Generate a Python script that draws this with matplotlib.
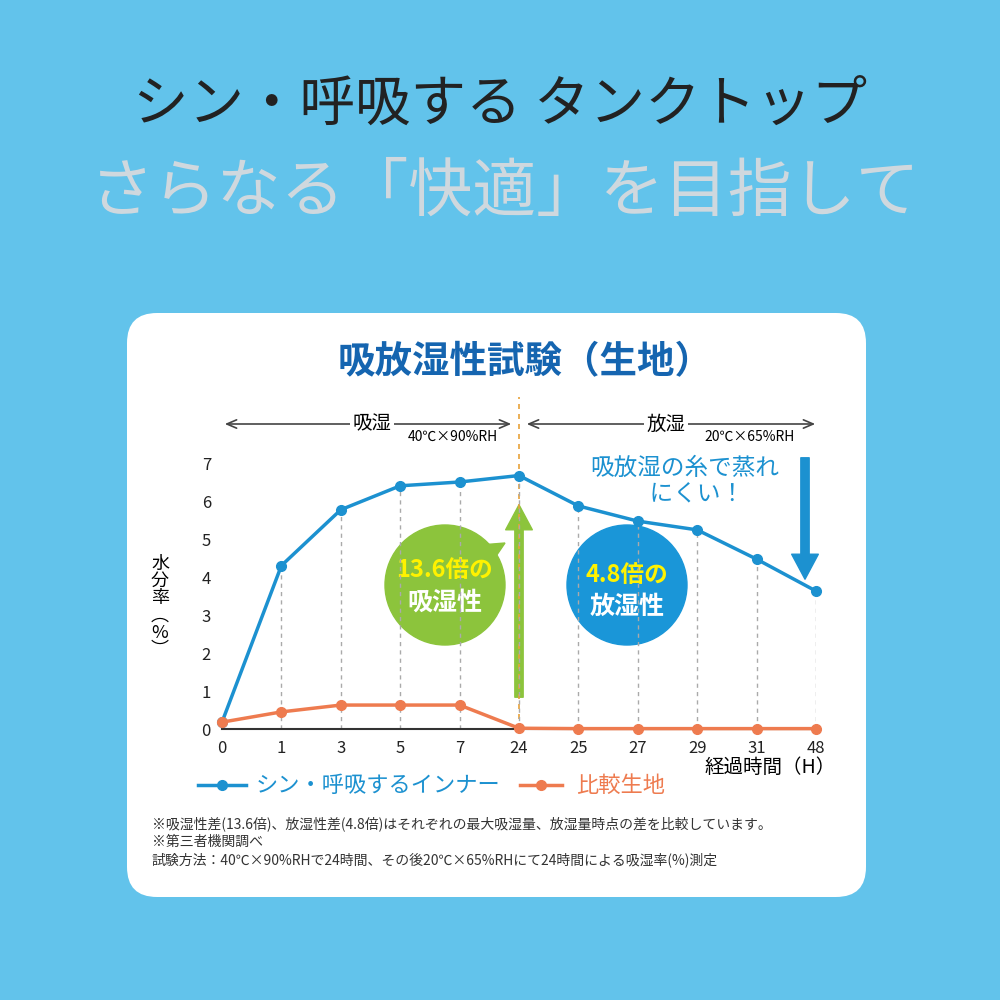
import matplotlib
matplotlib.use("Agg")
import matplotlib.pyplot as plt
from matplotlib.patches import FancyBboxPatch, Circle, FancyArrowPatch, Polygon

plt.rcParams['font.family'] = ['Noto Sans CJK JP', 'DejaVu Sans']

hours = ["0", "1", "3", "5", "7", "24", "25", "27", "29", "31", "48"]
inner = [0.18, 4.3, 5.77, 6.4, 6.5, 6.67, 5.87, 5.47, 5.24, 4.47, 3.63]
compare = [0.18, 0.45, 0.63, 0.63, 0.63, 0.02, 0.01, 0.01, 0.01, 0.01, 0.01]
yticks = [0, 1, 2, 3, 4, 5, 6, 7]

BG = "#62c3eb"; BLUE = "#1c91d0"; ORANGE = "#ee7b4f"; GREEN = "#8cc43c"
fig = plt.figure(figsize=(10, 10), dpi=100)
fig.patch.set_facecolor(BG)

def P(x, y):
    return (x / 1000, 1 - y / 1000)

T = fig.transFigure
fig.patches.append(FancyBboxPatch(P(127, 897), 0.739, 0.584, boxstyle="round,pad=0,rounding_size=0.03",
                                  transform=T, facecolor="white", edgecolor="none", zorder=0))

fig.text(*P(500, 105), "シン・呼吸する タンクトップ", ha="center", va="center", fontsize=40, color="#222222")
fig.text(*P(505, 192), "さらなる「快適」を目指して", ha="center", va="center", fontsize=46, color="#cfd8de")
fig.text(*P(525, 362), "吸放湿性試験（生地）", ha="center", va="center", fontsize=27, color="#1565b0", weight="bold")

ax = fig.add_axes([0.222, 0.271, 0.594, 0.266])
ax.set_zorder(5)
ax.set_facecolor("none")
x = list(range(len(hours)))
for i in x[1:]:
    ax.plot([i, i], [0, inner[i]], ls=(0, (3, 3)), color="#aaaaaa", lw=1, zorder=1)
ax.plot(x, inner, color=BLUE, lw=2.5, marker="o", ms=7, clip_on=False, zorder=3)
ax.plot(x, compare, color=ORANGE, lw=2.5, marker="o", ms=7, clip_on=False, zorder=3)
ax.set_xlim(0, 10); ax.set_ylim(0, 7)
ax.set_xticks(x); ax.set_xticklabels(hours, fontsize=12)
ax.set_yticks(yticks); ax.set_yticklabels([str(v) for v in yticks], fontsize=12)
ax.tick_params(length=0, pad=8, colors="#222222")
for s in ["left", "right", "top"]:
    ax.spines[s].set_visible(False)
ax.spines["bottom"].set_color("#333333"); ax.spines["bottom"].set_linewidth(1.5)
ax.axvline(5, ymin=0, ymax=1.25, color="#e8a23a", ls=(0, (3, 3)), lw=1.2, clip_on=False, zorder=0)

fig.text(*P(160, 607), "水\n分\n率\n︵\n%\n︶", ha="center", va="center", fontsize=13, linespacing=0.95)
fig.text(*P(770, 767), "経過時間（H）", ha="center", va="center", fontsize=14)

# headers
for x1, x2, lab, cond, lx, cx in [(222, 514, "吸湿", "40℃×90%RH", 372, 453), (524, 818, "放湿", "20℃×65%RH", 666, 750)]:
    fig.patches.append(FancyArrowPatch(P(x1, 424), P(x2, 424), transform=T, arrowstyle="<->,head_width=3,head_length=7",
                                       color="#444444", lw=1.2))
    fig.text(*P(lx, 424), lab, ha="center", va="center", fontsize=14,
             bbox=dict(facecolor="white", edgecolor="none", pad=2))
    fig.text(*P(cx, 437), cond, ha="center", va="center", fontsize=10,
             bbox=dict(facecolor="white", edgecolor="none", pad=1))

fig.text(*P(685, 482), "吸放湿の糸で蒸れ\n　にくい！", ha="center", va="center", fontsize=17, color=BLUE, linespacing=1.2)
fig.patches.append(FancyArrowPatch(P(805, 455), P(805, 582), transform=T, arrowstyle="simple,head_width=1.6,head_length=1.5,tail_width=0.5",
                                   color=BLUE, mutation_scale=12))
fig.patches.append(FancyArrowPatch(P(519, 700), P(519, 502), transform=T, arrowstyle="simple,head_width=1.6,head_length=1.5,tail_width=0.5",
                                   color=GREEN, mutation_scale=12))

fig.patches.append(Circle(P(445, 585), 0.06, transform=T, color=GREEN, zorder=2))
fig.patches.append(Polygon([P(480, 545), P(505, 543), P(492, 562)], closed=True, transform=T, color=GREEN))
fig.text(*P(445, 570), "13.6倍の", ha="center", va="center", fontsize=17, color="#fff200", weight="bold")
fig.text(*P(445, 603), "吸湿性", ha="center", va="center", fontsize=18, color="white", weight="bold")
fig.patches.append(Circle(P(627, 585), 0.06, transform=T, color="#1a96d8", zorder=2))
fig.text(*P(627, 575), "4.8倍の", ha="center", va="center", fontsize=17, color="#fff200", weight="bold")
fig.text(*P(627, 607), "放湿性", ha="center", va="center", fontsize=18, color="white", weight="bold")

# legend
fig.lines.append(plt.Line2D([0.198, 0.222, 0.246], [0.215, 0.215, 0.215], transform=T, color=BLUE, lw=2.5, marker="o", ms=7, markevery=[1]))
fig.text(*P(256, 785), "シン・呼吸するインナー", ha="left", va="center", fontsize=16, color=BLUE)
fig.lines.append(plt.Line2D([0.52, 0.541, 0.562], [0.215, 0.215, 0.215], transform=T, color=ORANGE, lw=2.5, marker="o", ms=7, markevery=[1]))
fig.text(*P(576, 785), "比較生地", ha="left", va="center", fontsize=16, color=ORANGE)

fig.text(*P(152, 842), "※吸湿性差(13.6倍)、放湿性差(4.8倍)はそれぞれの最大吸湿量、放湿量時点の差を比較しています。\n※第三者機関調べ\n試験方法：40℃×90%RHで24時間、その後20℃×65%RHにて24時間による吸湿率(%)測定",
         ha="left", va="center", fontsize=10, color="#333333", linespacing=1.3)

fig.savefig("out.png", dpi=100, facecolor=BG)
